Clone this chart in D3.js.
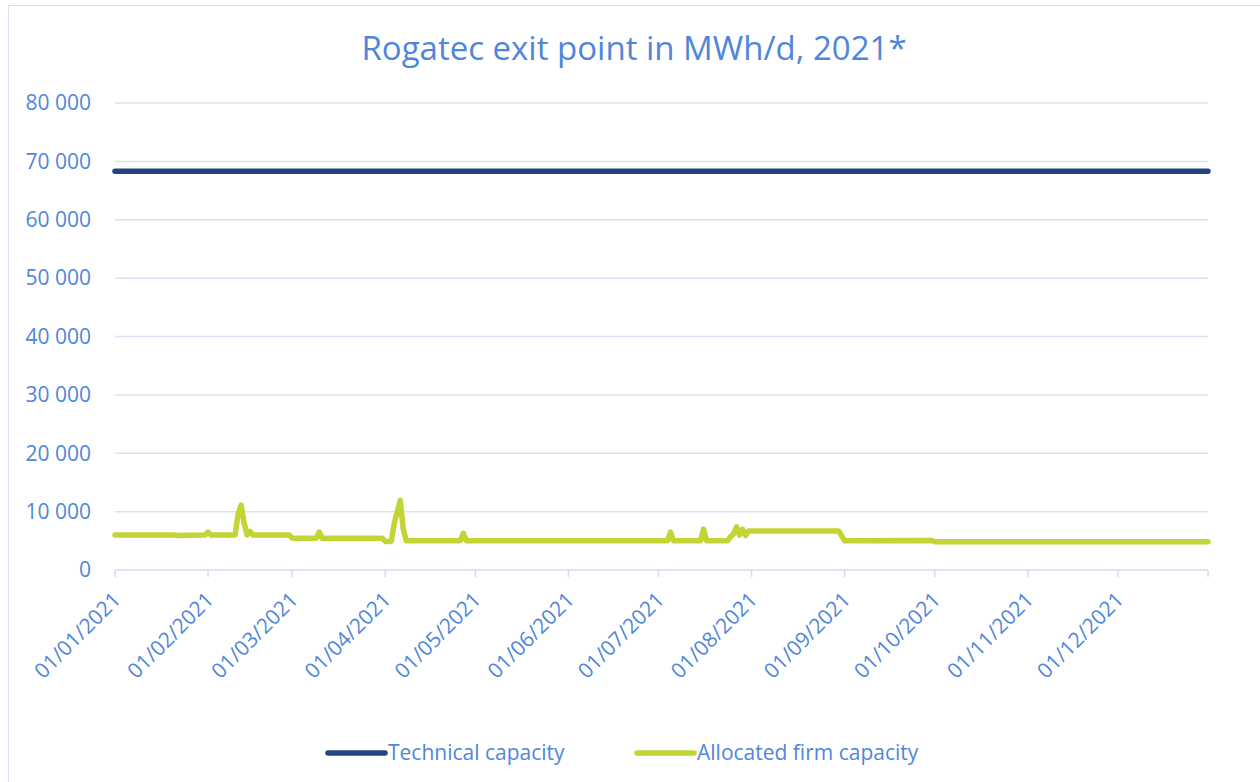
<!DOCTYPE html>
<html>
<head>
<meta charset="utf-8">
<script src="https://cdn.jsdelivr.net/npm/d3@7"></script>
<style>
    body { margin: 0; background: #fff; }
    svg text { font-family: "Open Sans", sans-serif; fill: #4f86da; }
</style>
</head>
<body>
<svg id="chart" width="1260" height="782"></svg>
<script>
const title = "Rogatec exit point in MWh/d, 2021*"
const seriesNames = ["Technical capacity", "Allocated firm capacity"]
const seriesColors = ["#22457f", "#c3d534"]
const yTicks = [0, 10000, 20000, 30000, 40000, 50000, 60000, 70000, 80000]
const monthTicks = ["2021-01-01", "2021-02-01", "2021-03-01", "2021-04-01", "2021-05-01", "2021-06-01",
    "2021-07-01", "2021-08-01", "2021-09-01", "2021-10-01", "2021-11-01", "2021-12-01"]

const technicalDates = ["2021-01-01", "2021-12-31"]
const technicalValues = [68300, 68300]

const allocatedDates = [
    "2021-01-01", "2021-01-21", "2021-01-22", "2021-01-31", "2021-02-01", "2021-02-02",
    "2021-02-10", "2021-02-11", "2021-02-12", "2021-02-13", "2021-02-14", "2021-02-15", "2021-02-16",
    "2021-02-28", "2021-03-01", "2021-03-09", "2021-03-10", "2021-03-11",
    "2021-03-31", "2021-04-01", "2021-04-03", "2021-04-04", "2021-04-06", "2021-04-07", "2021-04-08",
    "2021-04-26", "2021-04-27", "2021-04-28",
    "2021-07-04", "2021-07-05", "2021-07-06", "2021-07-15", "2021-07-16", "2021-07-17",
    "2021-07-24", "2021-07-25", "2021-07-26", "2021-07-27", "2021-07-28", "2021-07-29", "2021-07-30", "2021-07-31",
    "2021-08-30", "2021-09-01", "2021-09-30", "2021-10-01", "2021-12-31"
]
const allocatedValues = [
    6000, 6000, 5900, 6000, 6500, 6000,
    6000, 9600, 11100, 8000, 6000, 6600, 6000,
    6000, 5450, 5450, 6500, 5450,
    5450, 4900, 4900, 8000, 11900, 7000, 5000,
    5000, 6300, 5000,
    5000, 6500, 5000, 5000, 7000, 5000,
    5000, 5700, 6200, 7400, 6000, 7000, 5900, 6700,
    6700, 5000, 5050, 4850, 4850
]

const parseDate = d3.timeParse("%Y-%m-%d"),
    formatDate = d3.timeFormat("%d/%m/%Y"),
    formatNumber = d3.formatLocale({decimal: ",", thousands: " ", grouping: [3]}).format(",d")

const plotLeft = 115, plotRight = 1208, plotTop = 103, plotBottom = 570

let svg = d3.select("#chart")

svg.append("rect")
    .attr("x", 8.5).attr("y", 5.5)
    .attr("width", 1300).attr("height", 900)
    .attr("fill", "#fff")
    .attr("stroke", "#d6e0f2")

let x = d3.scaleTime()
    .domain([parseDate("2021-01-01"), parseDate("2021-12-31")])
    .range([plotLeft, plotRight])

let y = d3.scaleLinear()
    .domain([0, 80000])
    .range([plotBottom, plotTop])

svg.append("text")
    .attr("x", 634).attr("y", 60)
    .attr("text-anchor", "middle")
    .attr("font-size", 33)
    .text(title)

// grid lines
svg.append("g")
    .selectAll("line")
    .data(yTicks.slice(1))
    .join("line")
    .attr("x1", plotLeft).attr("x2", plotRight)
    .attr("y1", d => y(d)).attr("y2", d => y(d))
    .attr("stroke", "#d9e2f3")
    .attr("stroke-width", 1.5)

svg.append("g")
    .selectAll("text")
    .data(yTicks)
    .join("text")
    .attr("x", 91)
    .attr("y", d => y(d))
    .attr("dy", "0.35em")
    .attr("text-anchor", "end")
    .attr("font-size", 21)
    .text(d => formatNumber(d))

// x axis
let xTickDates = monthTicks.map(parseDate).concat([x.domain()[1]])

svg.append("line")
    .attr("x1", plotLeft).attr("x2", plotRight)
    .attr("y1", plotBottom).attr("y2", plotBottom)
    .attr("stroke", "#d2ddf1")
    .attr("stroke-width", 1.5)

svg.append("g")
    .selectAll("line")
    .data(xTickDates)
    .join("line")
    .attr("x1", d => x(d)).attr("x2", d => x(d))
    .attr("y1", plotBottom).attr("y2", plotBottom + 7)
    .attr("stroke", "#d2ddf1")
    .attr("stroke-width", 1.5)

svg.append("g")
    .selectAll("text")
    .data(monthTicks.map(parseDate))
    .join("text")
    .attr("transform", d => `translate(${x(d) + 7},${plotBottom + 31}) rotate(-45)`)
    .attr("text-anchor", "end")
    .attr("font-size", 21)
    .text(d => formatDate(d))

// lines
let line = d3.line()
    .x(d => x(d[0]))
    .y(d => y(d[1]))

let series = [
    technicalDates.map((d, i) => [parseDate(d), technicalValues[i]]),
    allocatedDates.map((d, i) => [parseDate(d), allocatedValues[i]])
]

svg.append("g")
    .selectAll("path")
    .data(series)
    .join("path")
    .attr("d", line)
    .attr("fill", "none")
    .attr("stroke", (d, i) => seriesColors[i])
    .attr("stroke-width", 5.5)
    .attr("stroke-linejoin", "round")
    .attr("stroke-linecap", "round")

// legend
let legendX = [328, 637]

let legend = svg.append("g")
    .selectAll("g")
    .data(seriesNames)
    .join("g")
    .attr("transform", (d, i) => `translate(${legendX[i]},753)`)

legend.append("line")
    .attr("x1", 0).attr("x2", 57)
    .attr("stroke", (d, i) => seriesColors[i])
    .attr("stroke-width", 5.5)
    .attr("stroke-linecap", "round")

legend.append("text")
    .attr("x", 60)
    .attr("dy", "0.35em")
    .attr("font-size", 21)
    .text(d => d)
</script>
</body>
</html>
